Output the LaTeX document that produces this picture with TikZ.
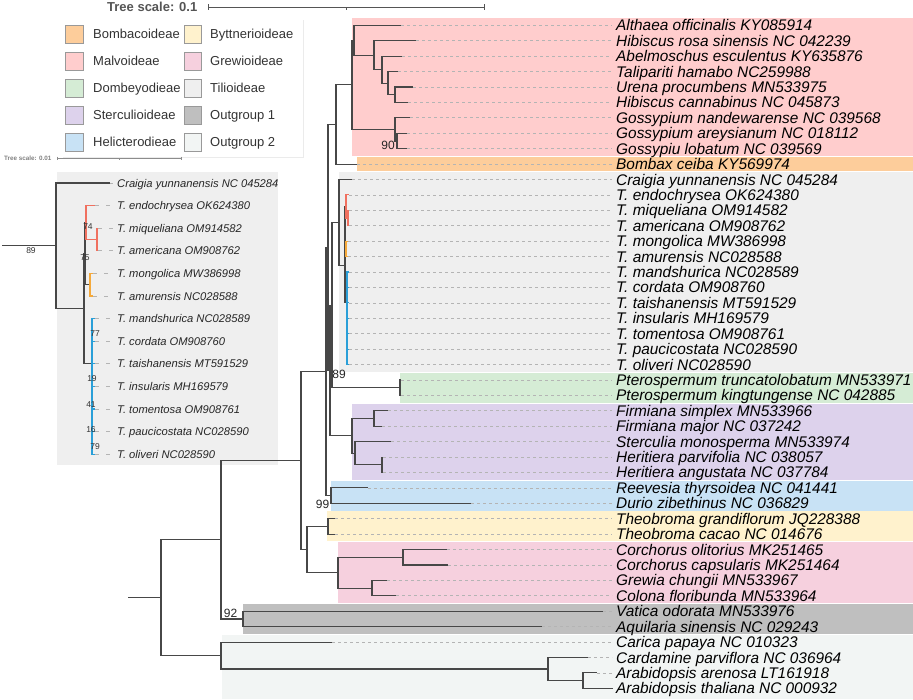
\documentclass[tikz,border=0pt]{standalone}
\usepackage{fontspec}
\setmainfont{Liberation Sans}
\usetikzlibrary{calc}

\definecolor{bomba}{RGB}{253,205,155}
\definecolor{malvo}{RGB}{255,205,205}
\definecolor{dombe}{RGB}{213,236,213}
\definecolor{sterc}{RGB}{221,210,236}
\definecolor{helic}{RGB}{200,226,245}
\definecolor{byttn}{RGB}{255,242,205}
\definecolor{grewi}{RGB}{246,208,222}
\definecolor{tilio}{RGB}{239,239,239}
\definecolor{outga}{RGB}{191,191,191}
\definecolor{outgb}{RGB}{242,245,244}
\definecolor{treeline}{HTML}{474747}
\definecolor{leadline}{HTML}{B4B4B4}
\definecolor{scalegray}{HTML}{555555}
\definecolor{tilred}{HTML}{F0705F}
\definecolor{tilorange}{HTML}{F5A93A}
\definecolor{tilblue}{HTML}{2A9FD8}

\tikzset{
  branch/.style={line width=1.1pt, draw=treeline},
  leader/.style={line width=0.7pt, draw=leadline, dash pattern=on 3pt off 3pt},
  taxon/.style={anchor=west, inner sep=0pt, text height=11pt, text depth=0pt,
    font=\fontsize{15.4}{16}\selectfont\itshape},
  itaxon/.style={anchor=west, inner sep=0pt, text height=8pt, text depth=0pt,
    font=\fontsize{11.2}{12}\selectfont\itshape, text=black!85},
  support/.style={inner sep=0pt, font=\fontsize{12}{12}\selectfont, text=black!85},
  isupport/.style={inner sep=0pt, font=\fontsize{8.5}{9}\selectfont, text=black!80},
  legtext/.style={anchor=west, inner sep=0pt, text height=9.3pt, text depth=0pt,
    font=\fontsize{13}{14}\selectfont, text=black!80},
  swatch/.style={draw=black!40, line width=0.8pt}
}

\begin{document}
\begin{tikzpicture}[x=1pt, y=-1pt]
  \useasboundingbox (0,0) rectangle (913,699);

  % clade bands
  \foreach \c/\x/\a/\b in {malvo/352/0/8, bomba/357/9/9, tilio/339/10/22, dombe/400/23/24,
      sterc/352/25/29, helic/331/30/31, byttn/327/32/33, grewi/338/34/37, outga/243/38/39}
    \fill[\c] (\x,{25.3+15.42*\a-7.3}) rectangle (913,{25.3+15.42*\b+7.3});
  \fill[outgb] (222,{25.3+15.42*40-7.3}) rectangle (913,699);

  % legend
  \fill[white] (63,20) rectangle (303,157);
  \draw[black!8] (303,20) -- (303,157) -- (63,157);
  \foreach \c/\t [count=\k from 0] in {bomba/Bombacoideae, malvo/Malvoideae, dombe/Dombeyodieae,
      sterc/Sterculioideae, helic/Helicterodieae} {
    \node[legtext] (lega\k) at (93,{34+27*\k}) {\t};
    \filldraw[swatch, fill=\c] (65,{25+27*\k}) rectangle (83,{43+27*\k});
  }
  \foreach \c/\t [count=\k from 0] in {byttn/Byttnerioideae, grewi/Grewioideae, tilio/Tilioideae,
      outga/Outgroup 1, outgb/Outgroup 2} {
    \filldraw[swatch, fill=\c] (184,{25+27*\k}) rectangle (201,{43+27*\k});
    \node[legtext] (legb\k) at (210,{34+27*\k}) {\t};
  }

  % tree scales
  \node[anchor=base west, inner sep=0pt, text=scalegray, font=\fontsize{13}{13}\selectfont\bfseries]
    (scale) at (107,11) {Tree scale: 0.1};
  \draw[scalegray, line width=0.8pt] (208,7) -- (484,7) (208,4) -- (208,10) (484,4) -- (484,10) (346,7) -- (346,10);
  \node[anchor=base west, inner sep=0pt, text=black!50, font=\fontsize{6.3}{7}\selectfont\bfseries]
    (iscale) at (4,160) {Tree scale: 0.01};
  \draw[black!45, line width=0.5pt] (57,158) -- (181,158) (57,156.5) -- (57,159.5) (181,156.5) -- (181,159.5) (119,158) -- (119,159.5);

  % inset of Tilia
  \fill[tilio] (57,172) rectangle (278,465);
  \foreach \j/\tx/\lab in {0/110/Craigia yunnanensis NC 045284, 1/95/T. endochrysea OK624380,
      2/98/T. miqueliana OM914582, 3/98/T. americana OM908762, 4/93/T. mongolica MW386998,
      5/93/T. amurensis NC028588, 6/95/T. mandshurica NC028589, 7/95/T. cordata OM908760,
      8/95/T. taishanensis MT591529, 9/95/T. insularis MH169579, 10/95/T. tomentosa OM908761,
      11/95/T. paucicostata NC028590, 12/95/T. oliveri NC028590} {
    \coordinate (s\j) at (\tx,{183+22.6*\j});
    \node[itaxon] (ilab\j) at (117,{183+22.6*\j}) {\lab};
    \draw[leadline, line width=0.7pt, dash pattern=on 4pt off 7pt] (s\j) -- ([xshift=-4pt]ilab\j.west);
  }
  \coordinate (iroot0) at (2,245.9);
  \coordinate (iroot) at (56,245.9);
  \coordinate (iT) at (84,308.7);
  \coordinate (i75) at (85,253.6);
  \coordinate (ired) at (86,222.5);
  \coordinate (ired2) at (97,239.5);
  \coordinate (ior) at (90,284.7);
  \coordinate (iblue) at (92,363.8);
  \draw[branch] (iroot0) -- (iroot) |- (s0) (iroot) |- (iT) |- (i75) (iT) |- (iblue)
    (i75) |- (ired) (i75) |- (ior);
  \draw[branch, tilred] (ired) |- (s1) (ired) |- (ired2) |- (s2) (ired2) |- (s3);
  \draw[branch, tilorange] (ior) |- (s4) (ior) |- (s5);
  \foreach \j in {6,...,12} \draw[branch, tilblue] (iblue) |- (s\j);
  \node[isupport] (ib89) at (31,251) {89};
  \node[isupport] (ib74) at (88,227) {74};
  \node[isupport] (ib75) at (85,258) {75};
  \node[isupport] (ib77) at (95,334) {77};
  \node[isupport] (ib19) at (92,379) {19};
  \node[isupport] (ib41) at (91,405) {41};
  \node[isupport] (ib16) at (91,430) {16};
  \node[isupport] (ib79) at (95,447) {79};

  % main tree tips and labels
  \foreach \i/\tx/\lab in {0/401/Althaea officinalis KY085914, 1/416/Hibiscus rosa sinensis NC 042239,
      2/402/Abelmoschus esculentus KY635876, 3/398/Talipariti hamabo NC259988,
      4/413/Urena procumbens MN533975, 5/408/Hibiscus cannabinus NC 045873,
      6/410/Gossypium nandewarense NC 039568, 7/407/Gossypium areysianum NC 018112,
      8/407/Gossypiu lobatum NC 039569, 9/357/Bombax ceiba KY569974,
      10/352/Craigia yunnanensis NC 045284, 11/349/T. endochrysea OK624380,
      12/349/T. miqueliana OM914582, 13/349/T. americana OM908762,
      14/348/T. mongolica MW386998, 15/348/T. amurensis NC028588,
      16/349/T. mandshurica NC028589, 17/349/T. cordata OM908760,
      18/349/T. taishanensis MT591529, 19/349/T. insularis MH169579,
      20/349/T. tomentosa OM908761, 21/349/T. paucicostata NC028590,
      22/349/T. oliveri NC028590, 23/401/Pterospermum truncatolobatum MN533971,
      24/401/Pterospermum kingtungense NC 042885, 25/388/Firmiana simplex MN533966,
      26/382/Firmiana major NC 037242, 27/391/Sterculia monosperma MN533974,
      28/383/Heritiera parvifolia NC 038057, 29/383/Heritiera angustata NC 037784,
      30/368/Reevesia thyrsoidea NC 041441, 31/471/Durio zibethinus NC 036829,
      32/335/Theobroma grandiflorum JQ228388, 33/335/Theobroma cacao NC 014676,
      34/447/Corchorus olitorius MK251465, 35/448/Corchorus capsularis MK251464,
      36/387/Grewia chungii MN533967, 37/396/Colona floribunda MN533964,
      38/603/Vatica odorata MN533976, 39/542/Aquilaria sinensis NC 029243,
      40/332/Carica papaya NC 010323, 41/588/Cardamine parviflora NC 036964,
      42/597/Arabidopsis arenosa LT161918, 43/613/Arabidopsis thaliana NC 000932} {
    \coordinate (t\i) at (\tx,{25.3+15.42*\i});
    \node[taxon] (lab\i) at (616,{25.3+15.42*\i}) {\lab};
    \draw[leader] (t\i) -- ([xshift=-4pt]lab\i.west);
  }

  % internal nodes
  \coordinate (g2) at (397,141.0);
  \coordinate (goss) at (395,129.4);
  \coordinate (m5) at (395,94.7);
  \coordinate (m4) at (388,83.2);
  \coordinate (m3) at (382,69.7);
  \coordinate (m2) at (374,55.2);
  \coordinate (m1) at (354,40.3);
  \coordinate (malv) at (352,84.8);
  \coordinate (malbom) at (336,124.5);
  \coordinate (tred2) at (348,218.1);
  \coordinate (tred) at (346,206.6);
  \coordinate (tor) at (346,248.9);
  \coordinate (t75) at (345,227.8);
  \coordinate (tblue) at (347,302.9);
  \coordinate (tT) at (345,265.3);
  \coordinate (tilia) at (339,222.4);
  \coordinate (ptero) at (400,387.8);
  \coordinate (tildom) at (332,305.1);
  \coordinate (fir) at (374,418.6);
  \coordinate (her) at (382,464.7);
  \coordinate (ster2) at (355,453.2);
  \coordinate (ster) at (352,435.9);
  \coordinate (n89) at (330,370.5);
  \coordinate (heli) at (331,495.6);
  \coordinate (nC) at (328,247.5);
  \coordinate (nB) at (326,371.5);
  \coordinate (theo) at (328,526.5);
  \coordinate (corch) at (403,557.3);
  \coordinate (grcol) at (372,588.1);
  \coordinate (grew) at (338,572.7);
  \coordinate (bygr) at (307,549.6);
  \coordinate (nA) at (301,460.6);
  \coordinate (og1) at (243,619.0);
  \coordinate (ingr) at (221,539.8);
  \coordinate (arab) at (583,680.6);
  \coordinate (bras) at (548,669.0);
  \coordinate (og2) at (221,655.6);
  \coordinate (root) at (161,597.7);
  \coordinate (root0) at (128,597.7);

  \draw[branch] (root0) -- (root) |- (ingr) (root) |- (og2);
  \draw[branch] (ingr) |- (nA) (ingr) |- (og1) |- (t38) (og1) |- (t39);
  \draw[branch] (og2) |- (t40) (og2) |- (bras) |- (t41) (bras) |- (arab) |- (t42) (arab) |- (t43);
  \draw[branch] (nA) |- (nB) (nA) |- (bygr) |- (theo) (bygr) |- (grew);
  \draw[branch] (theo) |- (t32) (theo) |- (t33);
  \draw[branch] (grew) |- (corch) |- (t34) (corch) |- (t35) (grew) |- (grcol) |- (t36) (grcol) |- (t37);
  \draw[branch] (nB) |- (nC) (nB) |- (heli) |- (t30) (heli) |- (t31);
  \draw[branch] (nC) |- (malbom) (nC) |- (n89);
  \draw[branch] (malbom) |- (malv) (malbom) |- (t9);
  \draw[branch] (malv) |- (m1) (malv) |- (goss);
  \draw[branch] (m1) |- (t0) (m1) |- (m2) |- (t1) (m2) |- (m3) |- (t2) (m3) |- (m4) |- (t3)
    (m4) |- (m5) |- (t4) (m5) |- (t5);
  \draw[branch] (goss) |- (t6) (goss) |- (g2) |- (t7) (g2) |- (t8);
  \draw[branch] (n89) |- (tildom) (n89) |- (ster);
  \draw[branch] (tildom) |- (tilia) (tildom) |- (ptero) |- (t23) (ptero) |- (t24);
  \draw[branch] (tilia) |- (t10) (tilia) |- (tT) |- (t75) (tT) |- (tblue);
  \draw[branch] (t75) |- (tred) (t75) |- (tor);
  \draw[branch, tilred] (tred) |- (t11) (tred) |- (tred2) |- (t12) (tred2) |- (t13);
  \draw[branch, tilorange] (tor) |- (t14) (tor) |- (t15);
  \foreach \j in {16,...,22} \draw[branch, tilblue] (tblue) |- (t\j);
  \draw[branch] (ster) |- (fir) |- (t25) (fir) |- (t26) (ster) |- (ster2) |- (t27)
    (ster2) |- (her) |- (t28) (her) |- (t29);

  % bootstrap values
  \node[support, anchor=east] (bs90) at (395,145.5) {90};
  \node[support] (bs89) at (339,374) {89};
  \node[support] (bs99) at (322.5,504) {99};
  \node[support] (bs92) at (230.5,613) {92};
\end{tikzpicture}
\end{document}
